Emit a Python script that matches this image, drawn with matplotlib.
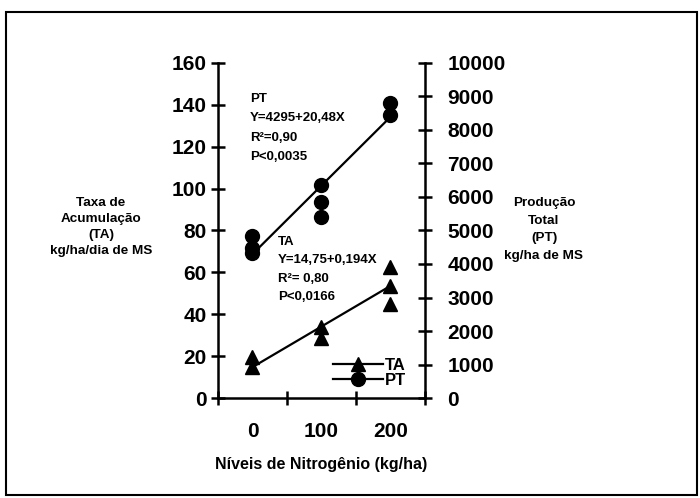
import matplotlib.pyplot as plt
import matplotlib.patches as mpatches
from matplotlib.lines import Line2D

plt.rcParams["font.family"] = ["Liberation Sans", "DejaVu Sans"]
plt.rcParams["font.weight"] = "bold"

# categories on the x axis (kg/ha N)
niveis = ["0", "100", "200"]

# Taxa de Acumulacao (TA), kg/ha/dia de MS - left axis
ta_cat = [0, 0, 1, 1, 2, 2, 2]
ta_val = [19.7, 14.6, 34.0, 28.5, 62.4, 53.6, 44.9]
ta_fit = [14.75, 34.15, 53.55]

# Producao Total (PT), kg/ha de MS - right axis
pt_cat = [0, 0, 0, 1, 1, 1, 2, 2]
pt_val = [4840, 4480, 4330, 6360, 5860, 5410, 8800, 8450]
pt_fit = [4295, 6343, 8391]

# regression annotations
pt_txt = ["PT", "Y=4295+20,48X", "R²=0,90", "P<0,0035"]
ta_txt = ["TA", "Y=14,75+0,194X", "R²= 0,80", "P<0,0166"]

fig = plt.figure(figsize=(7, 4.98), dpi=100)
ax = fig.add_axes([0.3114, 0.2008, 0.2957, 0.6727])
ax2 = ax.twinx()

# outer frame of the chart area
fig.patches.append(mpatches.Rectangle((6 / 700, 3 / 498), 691 / 700, 483 / 498,
                                      transform=fig.transFigure, fill=False,
                                      edgecolor="black", linewidth=1.5))

xc = [i + 0.5 for i in range(len(niveis))]

ax.plot(xc, ta_fit, color="black", lw=1.6, zorder=2)
ax.plot([c + 0.5 for c in ta_cat], ta_val, linestyle="none", marker="^",
        markersize=10.5, color="black", zorder=3)
ax2.plot(xc, pt_fit, color="black", lw=1.6, zorder=2)
ax2.plot([c + 0.5 for c in pt_cat], pt_val, linestyle="none", marker="o",
         markersize=10, color="black", zorder=3)

ax.set_xlim(0, 3)
ax.set_ylim(0, 160)
ax2.set_ylim(0, 10000)
ax.set_yticks(range(0, 161, 20))
ax2.set_yticks(range(0, 10001, 1000))
ax.set_xticks([0, 1, 2, 3])
ax.set_xticklabels([])
ax.set_xticks(xc, minor=True)
ax.set_xticklabels(niveis, minor=True)

for a in (ax, ax2):
    a.spines["top"].set_visible(False)
    for s in ("left", "right", "bottom"):
        a.spines[s].set_linewidth(1.8)
ax.spines["right"].set_visible(False)
ax2.spines["left"].set_visible(False)
ax2.spines["bottom"].set_visible(False)

ax.tick_params(axis="y", direction="inout", length=10, width=1.8, labelsize=15, pad=3)
ax2.tick_params(axis="y", direction="inout", length=10, width=1.8, labelsize=15, pad=11)
ax.tick_params(axis="x", which="major", direction="inout", length=10, width=1.8)
ax.tick_params(axis="x", which="minor", length=0, labelsize=15, pad=17)

ax.set_xlabel("Níveis de Nitrogênio (kg/ha)", fontsize=11.5, fontweight="bold", labelpad=12)

fig.text(101 / 700, 1 - 227 / 498, "Taxa de\nAcumulação\n(TA)\nkg/ha/dia de MS",
         ha="center", va="center", fontsize=9.7, fontweight="bold", linespacing=1.48)
fig.text(544 / 700, 1 - 229.5 / 498, "Produção\nTotal\n(PT)\nkg/ha de MS",
         ha="center", va="center", fontsize=9.7, fontweight="bold", linespacing=1.62)

# one text per line keeps the spacing even
for i, line in enumerate(pt_txt):
    fig.text(250 / 700, 1 - (98.5 + 19.6 * i) / 498, line,
             ha="left", va="center", fontsize=9.5, fontweight="bold")
for i, line in enumerate(ta_txt):
    fig.text(278 / 700, 1 - (241.5 + 18.6 * i) / 498, line,
             ha="left", va="center", fontsize=9.5, fontweight="bold")

handles = [Line2D([], [], color="black", lw=1.6, marker="^", markersize=10.5),
           Line2D([], [], color="black", lw=1.6, marker="o", markersize=10)]
leg = ax.legend(handles, ["TA", "PT"], loc="upper left", bbox_to_anchor=(0.556, 0.12),
                frameon=False, borderpad=0, borderaxespad=0, handlelength=3.0,
                handletextpad=0.1, labelspacing=0.0, prop={"size": 12, "weight": "bold"})

fig.savefig("out.png", dpi=100)
